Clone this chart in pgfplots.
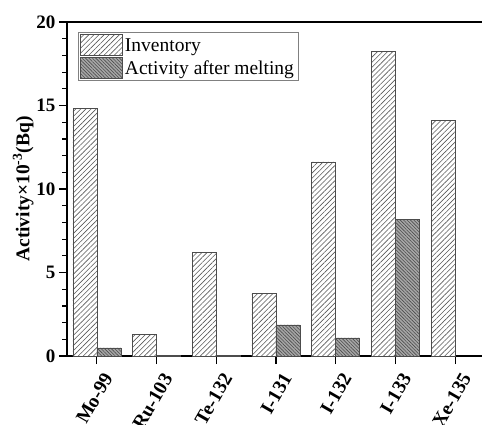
\documentclass[border=0pt]{standalone}
\usepackage{pgfplots}
\pgfplotsset{compat=1.18}
\usepackage{fontspec}
\setmainfont{Liberation Serif}
\usetikzlibrary{patterns.meta}

% inventory and activity after melting, x 10^-3 Bq
\pgfplotstableread{
x inv
0 14.83
1 1.30
2 6.19
3 3.77
4 11.62
5 18.26
6 14.11
}\inventory
\pgfplotstableread{
x melt
0 0.48
1 0.05
2 0.05
3 1.86
4 1.08
5 8.19
}\melting

\begin{document}
\begin{tikzpicture}
\begin{axis}[
    name=ax,
    scale only axis,
    width=418pt, height=334pt,
    xmin=-0.5, xmax=6.5,
    ymin=0, ymax=20,
    ybar, bar width=24pt,
    xtick=data,
    xticklabels={Mo-99,Ru-103,Te-132,I-131,I-132,I-133,Xe-135},
    ytick={0,5,10,15,20},
    minor y tick num=4,
    tick align=outside,
    xtick pos=bottom, ytick pos=left,
    major tick length=8pt, minor tick length=4.5pt,
    every tick/.style={black, line width=1.2pt},
    axis line style={line width=1.1pt},
    /pgf/number format/assume math mode=true,
    yticklabel style={font=\bfseries\fontsize{19}{21}\selectfont},
    xticklabel style={font=\bfseries\fontsize{19.5}{22}\selectfont,
        xshift=5pt, yshift=-6pt, rotate=60, anchor=north east, inner sep=1pt},
    ylabel={Activity×10\textsuperscript{-3}(Bq)},
    ylabel style={font=\bfseries\fontsize{19.5}{22}\selectfont},
    ylabel shift=-4pt,
    legend style={at={(0,1)}, anchor=north west, xshift=11pt, yshift=-10pt,
        draw=gray, line width=0.6pt, font=\fontsize{19.5}{22}\selectfont,
        row sep=1pt, inner sep=2pt},
    legend cell align=left,
    legend image code/.code={\draw[#1] (0pt,-10pt) rectangle (42pt,11pt);},
]
\addplot[bar shift=-12pt, draw=black!70, line width=0.7pt, fill=white,
    postaction={pattern={Lines[angle=45,distance=3.6pt,line width=0.6pt]}, pattern color=black!65}]
    table[x=x, y=inv] {\inventory};
\addplot[bar shift=12pt, draw=black!70, line width=0.7pt, fill=black!35,
    postaction={pattern={Lines[angle=-45,distance=2.4pt,line width=0.6pt]}, pattern color=black!70}]
    table[x=x, y=melt] {\melting};
\legend{Inventory, Activity after melting}
\end{axis}
\pgfresetboundingbox
\path[use as bounding box] ([shift={(-67pt,-68pt)}]ax.south west) rectangle ++(482pt,424pt);
\end{tikzpicture}
\end{document}
